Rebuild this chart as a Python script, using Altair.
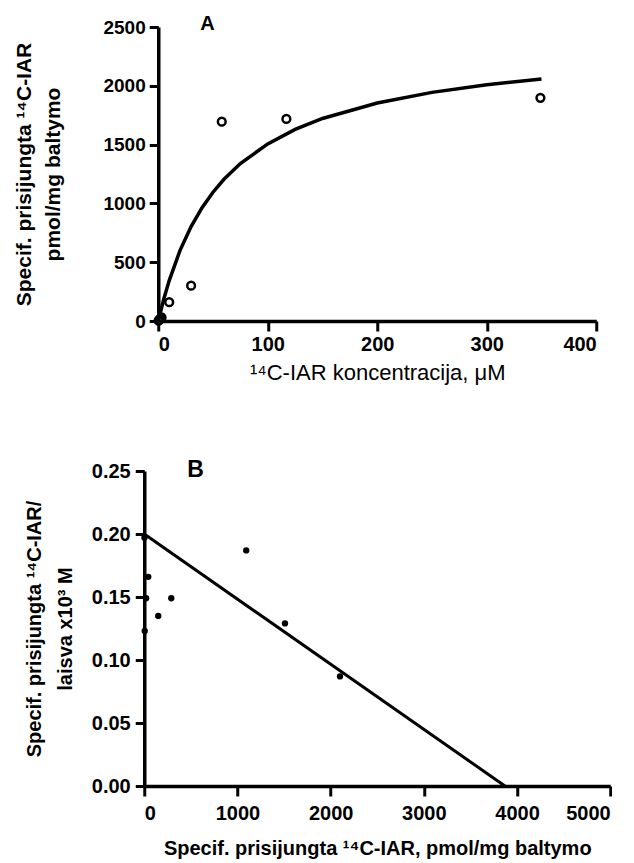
import altair as alt
import pandas as pd

FONT = "Liberation Sans"

# Panel A data: saturation binding
a_conc = [0.3, 1, 2, 3, 10, 30, 58, 117, 349]
a_bound = [3, 10, 22, 30, 160, 300, 1695, 1718, 1898]
# fitted curve
curve_x = [0, 5, 10, 20, 30, 40, 50, 60, 75, 100, 125, 150, 200, 250, 300, 350]
curve_y = [0, 185, 344, 603, 803, 964, 1095, 1205, 1339, 1506, 1629, 1722, 1854, 1944, 2008, 2058]

# Panel B data: Scatchard plot
b_bound = [2, 5, 20, 43, 150, 290, 1094, 1510, 2100]
b_ratio = [0.197, 0.123, 0.149, 0.166, 0.135, 0.149, 0.187, 0.129, 0.087]
line_x = [0, 3870]
line_y = [0.20, 0.0]

dfa = pd.DataFrame({"x": a_conc, "y": a_bound})
dfc = pd.DataFrame({"x": curve_x, "y": curve_y})
dfb = pd.DataFrame({"x": b_bound, "y": b_ratio})
dfl = pd.DataFrame({"x": line_x, "y": line_y})


def axis_common(size, tick=9, pad=3):
    return dict(
        domainColor="black", domainWidth=3.5, tickColor="black", tickWidth=3,
        tickSize=tick, labelFont=FONT, labelFontWeight="bold", labelFontSize=size,
        labelColor="black", titleFont=FONT, titleColor="black", grid=False,
        labelPadding=pad,
    )


ax_a_x = alt.X("x:Q", scale=alt.Scale(domain=[0, 400], nice=False),
               axis=alt.Axis(values=[0, 100, 200, 300, 400], format="d",
                             title="¹⁴C-IAR koncentracija, μM",
                             titleFontWeight="normal", titleFontSize=22,
                             titlePadding=8, **axis_common(20, 10, 3)))
ax_a_y = alt.Y("y:Q", scale=alt.Scale(domain=[0, 2500], nice=False),
               axis=alt.Axis(values=[0, 500, 1000, 1500, 2000, 2500], format="d",
                             title=["Specif. prisijungta ¹⁴C-IAR", "pmol/mg baltymo"],
                             titleFontWeight="bold", titleFontSize=21,
                             titleLineHeight=29, titlePadding=39, **axis_common(19, 9, 4)))

curve = alt.Chart(dfc).mark_line(color="black", strokeWidth=3.5).encode(x=ax_a_x, y=ax_a_y)
pts_a = alt.Chart(dfa).mark_point(shape="circle", filled=False, color="black",
                                  strokeWidth=2.5, size=60, opacity=1).encode(x="x:Q", y="y:Q")

chart_a = alt.layer(curve, pts_a).properties(
    width=438, height=294,
    title=alt.Title("A", anchor="start", frame="group", dx=42, offset=-16,
                    font=FONT, fontSize=20, fontWeight="bold", color="black"),
)

ax_b_x = alt.X("x:Q", scale=alt.Scale(domain=[0, 5000], nice=False),
               axis=alt.Axis(values=[0, 1000, 2000, 3000, 4000, 5000], format="d",
                             title="Specif. prisijungta ¹⁴C-IAR,  pmol/mg baltymo",
                             titleFontWeight="bold", titleFontSize=20,
                             titlePadding=15, **axis_common(20, 10, 7)))
ax_b_y = alt.Y("y:Q", scale=alt.Scale(domain=[0, 0.25], nice=False),
               axis=alt.Axis(values=[0, 0.05, 0.10, 0.15, 0.20, 0.25], format=".2f",
                             title=["Specif. prisijungta ¹⁴C-IAR/", "laisva x10³ M"],
                             titleFontWeight="bold", titleFontSize=20,
                             titleLineHeight=31, titlePadding=16, **axis_common(20, 9, 5)))

line_b = alt.Chart(dfl).mark_line(color="black", strokeWidth=3).encode(x=ax_b_x, y=ax_b_y)
pts_b = alt.Chart(dfb).mark_circle(color="black", size=40, opacity=1).encode(x="x:Q", y="y:Q")

chart_b = alt.layer(line_b, pts_b).properties(
    width=466, height=315,
    title=alt.Title("B", anchor="start", frame="group", dx=43, offset=-21,
                    font=FONT, fontSize=23, fontWeight="bold", color="black"),
)

chart = alt.vconcat(chart_a, chart_b, spacing=76, center=True).properties(
    padding={"left": 5, "top": 6, "right": 0, "bottom": 5}
).configure_view(stroke=None)

chart.save("out.html", embed_options={"renderer": "svg", "actions": False})
